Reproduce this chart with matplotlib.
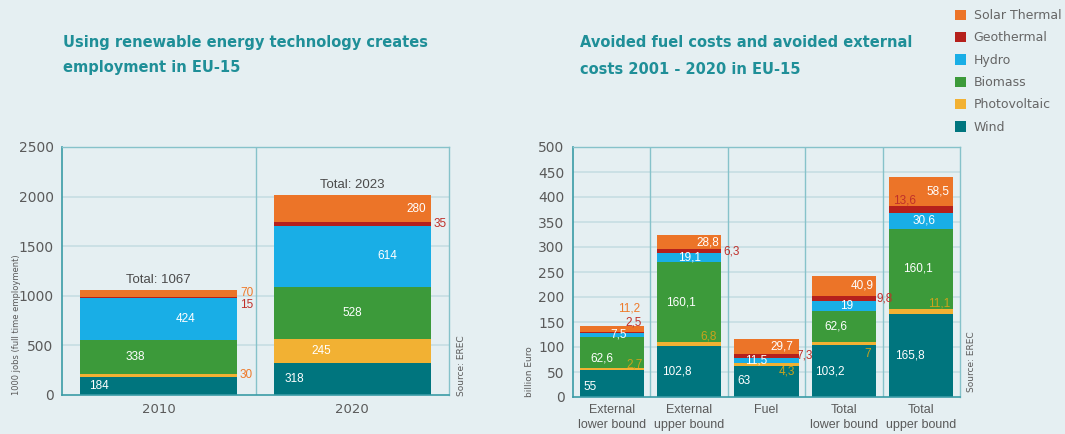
import matplotlib
matplotlib.use("Agg")
import matplotlib.pyplot as plt
import numpy as np
from matplotlib.patches import Patch

# ---- data ----
series = ['Wind', 'Photovoltaic', 'Biomass', 'Hydro', 'Geothermal', 'Solar Thermal']

jobs_years = ['2010', '2020']
jobs_wind = [184, 318]
jobs_pv = [30, 245]
jobs_biomass = [338, 528]
jobs_hydro = [424, 614]
jobs_geo = [15, 35]
jobs_solar = [70, 280]
jobs_totals = [1067, 2023]

cost_cats = ['External\nlower bound', 'External\nupper bound', 'Fuel',
             'Total\nlower bound', 'Total\nupper bound']
cost_wind = [55, 102.8, 63, 103.2, 165.8]
cost_pv = [2.7, 6.8, 4.3, 7, 11.1]
cost_biomass = [62.6, 160.1, 0, 62.6, 160.1]
cost_hydro = [7.5, 19.1, 11.5, 19, 30.6]
cost_geo = [2.5, 6.3, 7.3, 9.8, 13.6]
cost_solar = [11.2, 28.8, 29.7, 40.9, 58.5]

# ---- style ----
colors = {'Wind': '#00757e', 'Photovoltaic': '#f2b133', 'Biomass': '#3c9a3a',
          'Hydro': '#19aee6', 'Geothermal': '#b5201c', 'Solar Thermal': '#ec7428'}
bg = '#e5eff2'
teal_title = '#1f8f98'
grey_txt = '#5a5a5a'
grid_col = '#c6dde3'
sep_col = '#86c2ca'
lbl_col = {'w': 'white', 'o': '#ee7a2a', 'r': '#c0302a', 'y': '#c9a31c'}

W, H = 1065, 434
fig = plt.figure(figsize=(W / 100, H / 100), dpi=100, facecolor=bg)


def px_axes(x0, x1, y_top, y_bot):
    return fig.add_axes([x0 / W, 1 - y_bot / H, (x1 - x0) / W, (y_bot - y_top) / H])


def style_axes(ax, ncat, ymax, ystep):
    ax.set_facecolor(bg)
    ax.set_xlim(-0.5, ncat - 0.5)
    ax.set_ylim(0, ymax)
    ax.set_yticks(np.arange(0, ymax + 1, ystep))
    for y in np.arange(ystep, ymax + 1, ystep):
        ax.axhline(y, color=grid_col, lw=1.2, zorder=0)
    for x in np.arange(0.5, ncat - 0.5, 1):
        ax.axvline(x, color=sep_col, lw=1.0, zorder=0)
    for s in ['top', 'right']:
        ax.spines[s].set_color(sep_col)
        ax.spines[s].set_linewidth(1.0)
    for s in ['left', 'bottom']:
        ax.spines[s].set_color('#3a9ba6')
        ax.spines[s].set_linewidth(1.2)
    ax.tick_params(length=0, colors=grey_txt, labelsize=10, pad=6)
    ax.set_axisbelow(True)


def stack(ax, stacks, width):
    x = np.arange(len(stacks[0][1]))
    bottom = np.zeros(len(x))
    segs = []
    for name, vals in stacks:
        vals = np.array(vals, dtype=float)
        ax.bar(x, vals, width, bottom=bottom, color=colors[name], zorder=2, linewidth=0)
        segs.append((bottom.copy(), vals))
        bottom += vals
    return segs, bottom


def put_labels(ax, segs, spec, fmt):
    # spec[series][bar] = (dx, ha, dy, colour key) or None
    for si, (bot, vals) in enumerate(segs):
        for bi in range(len(vals)):
            s = spec[si][bi]
            if s is None or vals[bi] == 0:
                continue
            dx, ha, dy, ck = s
            ax.text(bi + dx, bot[bi] + vals[bi] / 2 + dy, fmt(vals[bi]), ha=ha, va='center',
                    color=lbl_col[ck], fontsize=8.5, family='Liberation Sans', zorder=3)


# ---- left chart: employment ----
ax1 = px_axes(62, 449, 147, 395)
style_axes(ax1, 2, 2500, 500)
ax1.tick_params(axis='x', labelsize=9.5, pad=6)
segs1, tops1 = stack(ax1, [('Wind', jobs_wind), ('Photovoltaic', jobs_pv), ('Biomass', jobs_biomass),
                           ('Hydro', jobs_hydro), ('Geothermal', jobs_geo), ('Solar Thermal', jobs_solar)], 0.81)
ax1.set_xticks(range(2))
ax1.set_xticklabels(jobs_years)
spec1 = [
    [(-0.36, 'left', 0, 'w'), (-0.35, 'left', 0, 'w')],
    [(0.42, 'left', 0, 'o'), (-0.16, 'center', 0, 'w')],
    [(-0.12, 'center', 0, 'w'), (0, 'center', 0, 'w')],
    [(0.14, 'center', 0, 'w'), (0.18, 'center', 0, 'w')],
    [(0.42, 'left', -72, 'r'), (0.42, 'left', 0, 'r')],
    [(0.42, 'left', 0, 'o'), (0.38, 'right', 0, 'w')],
]
put_labels(ax1, segs1, spec1, lambda v: f'{v:.0f}')
for i, t in enumerate(jobs_totals):
    ax1.text(i, tops1[i] + 40, f'Total: {t}', ha='center', va='bottom', color='#4a4a4a',
             fontsize=9.5, family='Liberation Sans', zorder=3)
fig.text(17 / W, 1 - 325 / H, '1000 jobs (full time employment)', rotation=90, ha='center',
         va='center', fontsize=6, color=grey_txt)
fig.text(462 / W, 1 - 366 / H, 'Source: EREC', rotation=90, ha='center', va='center',
         fontsize=6.5, color=grey_txt)

# ---- right chart: avoided costs ----
ax2 = px_axes(573, 960, 147, 397)
style_axes(ax2, 5, 500, 50)
ax2.tick_params(axis='x', labelsize=9, pad=5)
segs2, tops2 = stack(ax2, [('Wind', cost_wind), ('Photovoltaic', cost_pv), ('Biomass', cost_biomass),
                           ('Hydro', cost_hydro), ('Geothermal', cost_geo), ('Solar Thermal', cost_solar)], 0.83)
ax2.set_xticks(range(5))
ax2.set_xticklabels(cost_cats, linespacing=1.3, family='Liberation Sans')
spec2 = [
    [(-0.36, 'left', -8, 'w'), (-0.35, 'left', 0, 'w'), (-0.37, 'left', 0, 'w'),
     (-0.37, 'left', 0, 'w'), (-0.34, 'left', 0, 'w')],
    [(0.4, 'right', 9, 'y'), (0.36, 'right', 14, 'y'), (0.37, 'right', -15, 'y'),
     (0.35, 'right', -20, 'y'), (0.37, 'right', 16, 'y')],
    [(-0.13, 'center', -12, 'w'), (-0.1, 'center', 0, 'w'), None,
     (-0.1, 'center', 0, 'w'), (-0.04, 'center', 0, 'w')],
    [(0.09, 'center', 0, 'w'), (0, 'center', 0, 'w'), (-0.13, 'center', 0, 'w'),
     (0.04, 'center', 0, 'w'), (0.04, 'center', 0, 'w')],
    [(0.28, 'center', 19, 'r'), (0.44, 'left', 0, 'r'), (0.49, 'center', 0, 'r'),
     (0.42, 'left', 0, 'r'), (-0.36, 'left', 18, 'r')],
    [(0.23, 'center', 41, 'o'), (0.39, 'right', 0, 'w'), (0.35, 'right', 0, 'w'),
     (0.39, 'right', 0, 'w'), (0.37, 'right', 0, 'w')],
]
put_labels(ax2, segs2, spec2, lambda v: f'{v:g}'.replace('.', ','))
fig.text(530 / W, 1 - 372 / H, 'billion Euro', rotation=90, ha='center', va='center',
         fontsize=6.5, color=grey_txt)
fig.text(972 / W, 1 - 362 / H, 'Source: EREC', rotation=90, ha='center', va='center',
         fontsize=6.5, color=grey_txt)

# ---- titles ----
fig.text(63 / W, 1 - 35 / H, 'Using renewable energy technology creates\nemployment in EU-15',
         ha='left', va='top', fontsize=10.5, fontweight='bold', color=teal_title,
         family='DejaVu Sans', linespacing=1.8)
fig.text(580 / W, 1 - 35 / H, 'Avoided fuel costs and avoided external\ncosts 2001 - 2020 in EU-15',
         ha='left', va='top', fontsize=10.5, fontweight='bold', color=teal_title,
         family='DejaVu Sans', linespacing=2.0)

# ---- legend ----
handles = [Patch(facecolor=colors[s], edgecolor='none', label=s) for s in reversed(series)]
fig.legend(handles=handles, loc='upper left', bbox_to_anchor=(950 / W, 1 - 4 / H),
           frameon=False, fontsize=9, labelcolor='#666666', handlelength=0.9,
           handleheight=0.9, handletextpad=0.6, labelspacing=0.75, borderaxespad=0)

fig.savefig('out.png', dpi=100, facecolor=bg)
